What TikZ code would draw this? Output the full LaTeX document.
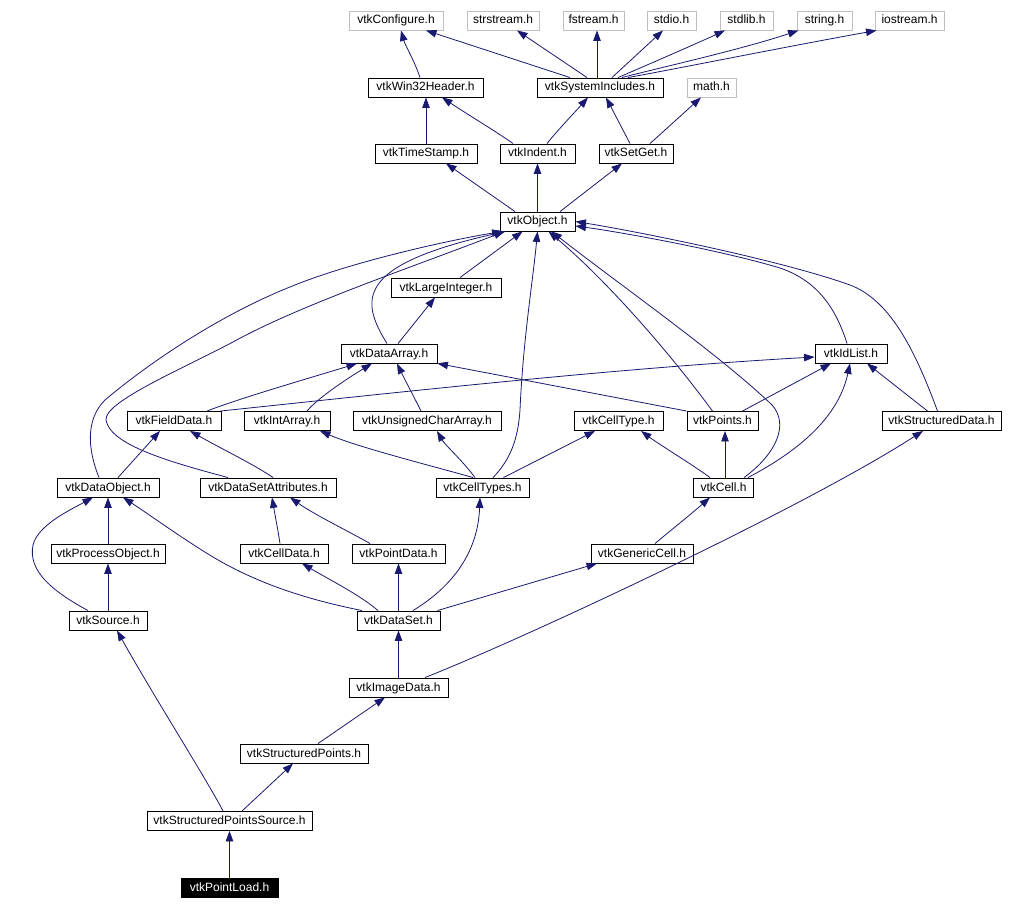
\documentclass[tikz,border=0pt]{standalone}
\usepackage{fontspec}
\setmainfont{Liberation Sans}
\usetikzlibrary{arrows.meta}
\definecolor{edgeblue}{HTML}{191970}
\definecolor{greyline}{HTML}{BFBFBF}
\begin{document}
\begin{tikzpicture}[x=1pt,y=-1pt,
  box/.style={draw=black, line width=0.9pt, fill=white, inner sep=0pt, minimum height=19pt,
              text height=9pt, text depth=2pt, font=\fontsize{12pt}{14pt}\selectfont},
  gbox/.style={box, draw=greyline},
  hbox/.style={box, fill=black, text=white},
  edge/.style={draw=edgeblue, line width=0.8pt, -{Triangle[length=10.5pt,width=7.5pt]}}]
\fill[white] (0,0) rectangle (1009,909);
\useasboundingbox (0,0) rectangle (1009,909);

% ---------- nodes ----------
\node[gbox, minimum width=94pt]  (conf)   at (396,20.5)   {vtkConfigure.h};
\node[gbox, minimum width=72pt]  (strs)   at (503,20.5)   {strstream.h};
\node[gbox, minimum width=61pt]  (fstr)   at (593.5,20.5) {fstream.h};
\node[gbox, minimum width=49pt]  (stdio)  at (671.5,20.5) {stdio.h};
\node[gbox, minimum width=53pt]  (stdlib) at (746.5,20.5) {stdlib.h};
\node[gbox, minimum width=55pt]  (string) at (824.5,20.5) {string.h};
\node[gbox, minimum width=69pt]  (iostr)  at (909.5,20.5) {iostream.h};

\node[box, minimum width=115pt]  (win32)  at (425.5,87.5) {vtkWin32Header.h};
\node[box, minimum width=126pt]  (sysinc) at (600,87.5)   {vtkSystemIncludes.h};
\node[gbox, minimum width=49pt]  (math)   at (711.5,87.5) {math.h};

\node[box, minimum width=102pt]  (tstamp) at (426,153.5)   {vtkTimeStamp.h};
\node[box, minimum width=75pt]   (indent) at (537.5,153.5) {vtkIndent.h};
\node[box, minimum width=74pt]   (setget) at (636,153.5)   {vtkSetGet.h};

\node[box, minimum width=75pt]   (object) at (537.5,221.5) {vtkObject.h};
\node[box, minimum width=110pt]  (largeint) at (446,287.5) {vtkLargeInteger.h};

\node[box, minimum width=96pt]   (dataarr) at (389,353.5) {vtkDataArray.h};
\node[box, minimum width=72pt]   (idlist)  at (851,353.5) {vtkIdList.h};

\node[box, minimum width=94pt]   (fielddata) at (174,421)   {vtkFieldData.h};
\node[box, minimum width=86pt]   (intarr)    at (287,421)   {vtkIntArray.h};
\node[box, minimum width=148pt]  (ucarr)     at (427,421)   {vtkUnsignedCharArray.h};
\node[box, minimum width=89pt]   (celltype)  at (618.5,421) {vtkCellType.h};
\node[box, minimum width=71pt]   (points)    at (722.5,421) {vtkPoints.h};
\node[box, minimum width=119pt]  (sdata)     at (941.5,421) {vtkStructuredData.h};

\node[box, minimum width=102pt]  (dataobj)   at (108,487.5)   {vtkDataObject.h};
\node[box, minimum width=136pt]  (dsattr)    at (268,487.5)   {vtkDataSetAttributes.h};
\node[box, minimum width=93pt]   (celltypes) at (482.5,487.5) {vtkCellTypes.h};
\node[box, minimum width=60pt]   (cell)      at (723.5,487.5) {vtkCell.h};

\node[box, minimum width=114pt]  (procobj)   at (108,553.5)   {vtkProcessObject.h};
\node[box, minimum width=88pt]   (celldata)  at (284,553.5)   {vtkCellData.h};
\node[box, minimum width=93pt]   (pointdata) at (398.5,553.5) {vtkPointData.h};
\node[box, minimum width=102pt]  (gencell)   at (642,553.5)   {vtkGenericCell.h};

\node[box, minimum width=78pt]   (source)    at (108,620.5)   {vtkSource.h};
\node[box, minimum width=83pt]   (dataset)   at (398.5,620.5) {vtkDataSet.h};

\node[box, minimum width=99pt]   (imgdata)   at (398.5,687.5) {vtkImageData.h};
\node[box, minimum width=128pt]  (spoints)   at (304,753.5)   {vtkStructuredPoints.h};
\node[box, minimum width=165pt]  (spsource)  at (229.5,821)   {vtkStructuredPointsSource.h};
\node[hbox, minimum width=97pt]  (pload)     at (229.5,887.5) {vtkPointLoad.h};

% ---------- edges ----------
\draw[edge] ([xshift=-5.5]win32.north) .. controls (415,62) and (405,45) .. ([xshift=5]conf.south);
\draw[edge] ([xshift=-30]sysinc.north) -- ([xshift=30]conf.south);
\draw[edge] ([xshift=-13]sysinc.north) -- ([xshift=14]strs.south);
\draw[edge] ([xshift=-3]sysinc.north) -- ([xshift=3.5]fstr.south);
\draw[edge] ([xshift=12]sysinc.north) -- ([xshift=-8.5]stdio.south);
\draw[edge] ([xshift=18]sysinc.north) .. controls (645,66) and (700,42) .. ([xshift=-21.5]stdlib.south);
\draw[edge] ([xshift=22]sysinc.north) .. controls (650,70) and (740,50) .. ([xshift=-26]string.south);
\draw[edge] ([xshift=28]sysinc.north) .. controls (670,70) and (790,46) .. ([xshift=-33]iostr.south);

\draw[edge] (tstamp.north) -- ([xshift=0.5]win32.south);
\draw[edge] ([xshift=-24.5]indent.north) .. controls (500,134) and (470,116) .. ([xshift=16.5]win32.south);
\draw[edge] ([xshift=9.5]indent.north) .. controls (556,132) and (575,112) .. ([xshift=-12]sysinc.south);
\draw[edge] ([xshift=-6]setget.north) -- ([xshift=6]sysinc.south);
\draw[edge] ([xshift=14]setget.north) -- ([xshift=-10.5]math.south);

\draw[edge] ([xshift=-22.5]object.north) -- ([xshift=20]tstamp.south);
\draw[edge] (object.north) -- (indent.south);
\draw[edge] ([xshift=22.5]object.north) -- ([xshift=-14]setget.south);

\draw[edge] ([xshift=14]largeint.north) -- ([xshift=-15]object.south);
\draw[edge] ([xshift=-2]dataarr.north) .. controls (360,300) and (355,265) .. ([xshift=-32]object.south);
\draw[edge] ([xshift=9]dataarr.north) -- ([xshift=-11]largeint.south);

\draw[edge] ([xshift=33]fielddata.north) .. controls (240,398) and (320,375) .. ([xshift=-32]dataarr.south);
\draw[edge] ([xshift=-1]fielddata.north east) .. controls (420,390) and (620,368) .. ([yshift=-3.5]idlist.west);
\draw[edge] ([xshift=20]intarr.north) .. controls (318,398) and (345,380) .. ([xshift=-17]dataarr.south);
\draw[edge] ([xshift=-6]ucarr.north) .. controls (413,395) and (405,380) .. ([xshift=8]dataarr.south);
\draw[edge] (points.north west) -- (dataarr.south east);
\draw[edge] ([xshift=-10]points.north) .. controls (660,340) and (600,275) .. ([xshift=11]object.south);
\draw[edge] ([xshift=20]points.north) -- ([xshift=-20]idlist.south);

\draw[edge] ([xshift=20.5]cell.north) .. controls (775,455) and (790,425) .. (772,405)
            .. controls (720,355) and (620,285) .. ([xshift=14]object.south);
\draw[edge] ([xshift=-4]idlist.north) .. controls (835,305) and (815,280) .. (780,268)
            .. controls (720,250) and (620,232) .. ([yshift=-4.5]object.east);
\draw[edge] ([xshift=-4]sdata.north) .. controls (915,350) and (890,300) .. (850,285)
            .. controls (780,260) and (640,232) .. (object.east);
\draw[edge] ([xshift=-14]sdata.north) -- ([xshift=16]idlist.south);
\draw[edge] ([xshift=24.5]cell.north) .. controls (810,445) and (840,410) .. ([xshift=-1]idlist.south);
\draw[edge] ([xshift=1.5]cell.north) -- ([xshift=2.5]points.south);
\draw[edge] ([xshift=-13.5]cell.north) .. controls (690,463) and (660,445) .. ([xshift=22.5]celltype.south);

\draw[edge] ([xshift=-9.5]celltypes.north) .. controls (440,468) and (360,448) .. ([xshift=33]intarr.south);
\draw[edge] ([xshift=-7.5]celltypes.north) .. controls (462,460) and (445,445) .. ([xshift=10]ucarr.south);
\draw[edge] ([xshift=21]celltypes.north) -- ([xshift=-23.5]celltype.south);
\draw[edge] ([xshift=10.5]celltypes.north) .. controls (510,460) and (518,440) .. (520,410)
            .. controls (523,340) and (533,280) .. (object.south);

\draw[edge] ([xshift=-9]dataobj.north) .. controls (88,450) and (85,420) .. (105,400)
            .. controls (150,362) and (220,315) .. (290,287)
            .. controls (350,262) and (450,240) .. ([xshift=-35]object.south);
\draw[edge] ([xshift=-40]dsattr.north) .. controls (170,462) and (110,445) .. (106,420)
            .. controls (104,402) and (180,370) .. (233,342)
            .. controls (300,305) and (410,268) .. ([xshift=-33]object.south);
\draw[edge] ([xshift=10]dataobj.north) -- ([xshift=-14]fielddata.south);
\draw[edge] ([xshift=5]dsattr.north) .. controls (255,465) and (220,448) .. ([xshift=16]fielddata.south);

\draw[edge] (procobj.north) -- (dataobj.south);
\draw[edge] (source.north) -- (procobj.south);
\draw[edge] ([xshift=-20]source.north) .. controls (50,590) and (28,570) .. (33,545)
            .. controls (38,525) and (70,510) .. ([xshift=-15]dataobj.south);

\draw[edge] ([xshift=-4]celldata.north) .. controls (278,530) and (275,515) .. ([xshift=4]dsattr.south);
\draw[edge] ([xshift=-28.5]pointdata.north) .. controls (350,532) and (315,515) .. ([xshift=22]dsattr.south);

\draw[edge] ([xshift=-36.5]dataset.north) .. controls (310,600) and (260,585) .. (213,557)
            .. controls (180,537) and (150,515) .. ([xshift=15]dataobj.south);
\draw[edge] ([xshift=-20.5]dataset.north) .. controls (360,595) and (330,580) .. ([xshift=18]celldata.south);
\draw[edge] (dataset.north) -- (pointdata.south);
\draw[edge] ([xshift=14.5]dataset.north) .. controls (455,585) and (478,550) .. ([xshift=-2.5]celltypes.south);
\draw[edge] ([xshift=-3]dataset.north east) -- ([xshift=-45]gencell.south);
\draw[edge] ([xshift=13]gencell.north) .. controls (665,535) and (690,515) .. ([xshift=-13.5]cell.south);

\draw[edge] (imgdata.north) -- (dataset.south);
\draw[edge] ([xshift=26.5]imgdata.north) .. controls (520,640) and (800,510) .. ([xshift=-18.5]sdata.south);
\draw[edge] ([xshift=14]spoints.north) -- ([xshift=-13.5]imgdata.south);
\draw[edge] ([xshift=12.5]spsource.north) -- ([xshift=-11]spoints.south);
\draw[edge] ([xshift=-6.5]spsource.north) .. controls (210,785) and (150,690) .. ([xshift=9]source.south);
\draw[edge] (pload.north) -- (spsource.south);
\end{tikzpicture}
\end{document}
